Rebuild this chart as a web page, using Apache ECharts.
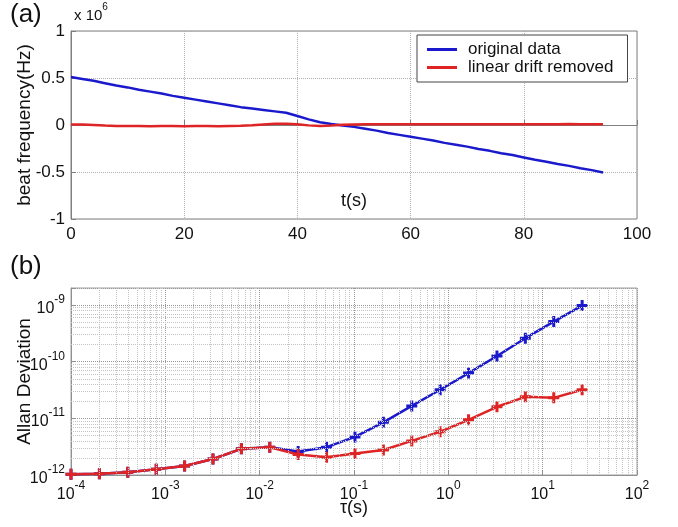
<!DOCTYPE html>
<html>
<head>
<meta charset="utf-8">
<script src="https://cdn.jsdelivr.net/npm/echarts@6/dist/echarts.min.js"></script>
<style>
  html, body { margin: 0; padding: 0; background: #fff; }
  #chart { width: 678px; height: 527px; }
</style>
</head>
<body>
<div id="chart"></div>
<script>
// (a) beat frequency vs time, values in units of 1e6 Hz
var timeSec = [0, 2, 4, 6, 8, 10, 12, 14, 16, 18, 20, 22, 24, 26, 28, 30, 32, 34, 36, 38,
  40, 42, 44, 46, 48, 50, 52, 54, 56, 58, 60, 62, 64, 66, 68, 70, 72, 74, 76, 78,
  80, 82, 84, 86, 88, 90, 92, 94]
var freqOriginal = [0.51, 0.49, 0.47, 0.445, 0.42, 0.40, 0.375, 0.355, 0.335, 0.31,
  0.29, 0.27, 0.25, 0.23, 0.21, 0.19, 0.175, 0.16, 0.145, 0.13,
  0.095, 0.06, 0.03, 0.01, -0.005, -0.02, -0.04, -0.06, -0.085, -0.105,
  -0.125, -0.145, -0.165, -0.19, -0.21, -0.23, -0.255, -0.275, -0.3, -0.32,
  -0.345, -0.37, -0.39, -0.415, -0.435, -0.46, -0.48, -0.505]
var freqDetrended = [0.005, 0.004, 0.0, -0.006, -0.01, -0.011, -0.01, -0.012, -0.011, -0.01,
  -0.012, -0.01, -0.011, -0.012, -0.01, -0.008, -0.002, 0.006, 0.012, 0.014,
  0.008, -0.004, -0.01, -0.006, 0.002, 0.006, 0.008, 0.007, 0.008, 0.009,
  0.008, 0.007, 0.008, 0.008, 0.009, 0.008, 0.007, 0.008, 0.009, 0.008,
  0.008, 0.007, 0.008, 0.009, 0.01, 0.008, 0.008, 0.008]

// (b) Allan deviation vs averaging time
var tau = [1e-4, 2e-4, 4e-4, 8e-4, 1.6e-3, 3.2e-3, 6.4e-3, 1.28e-2, 2.56e-2, 5.12e-2,
  0.1024, 0.2048, 0.4096, 0.8192, 1.6384, 3.2768, 6.5536, 13.107, 26.214]
var adevOriginal = [1.03e-12, 1.05e-12, 1.12e-12, 1.26e-12, 1.44e-12, 1.92e-12, 2.9e-12, 3.1e-12, 2.6e-12, 3.1e-12,
  4.7e-12, 8.5e-12, 1.66e-11, 3.2e-11, 6.3e-11, 1.26e-10, 2.6e-10, 5.1e-10, 9.8e-10]
var adevDetrended = [1.03e-12, 1.05e-12, 1.12e-12, 1.26e-12, 1.44e-12, 1.92e-12, 2.9e-12, 3.1e-12, 2.3e-12, 2.05e-12,
  2.4e-12, 2.76e-12, 4.0e-12, 5.8e-12, 9.4e-12, 1.6e-11, 2.4e-11, 2.3e-11, 3.2e-11]

var tauMin = 1e-4, tauMax = 1e2
var adevMin = 1e-12, adevMax = 2e-9

var blue = '#1a1acc'
var red = '#de2424'
var font = "'Liberation Sans', Arial, sans-serif"
var plus = 'path://M4,0h3v4h4v3h-4v4h-3v-4h-4v-3h4z'

// minor log grid lines at 2..9 x 10^k
var minorX = []
for (var e = -4; e < 2; e++) for (var m = 2; m < 10; m++) minorX.push(m * Math.pow(10, e))
var minorY = []
for (var e2 = -12; e2 < -8; e2++) for (var m2 = 2; m2 < 10; m2++) {
  var v = m2 * Math.pow(10, e2)
  if (v < adevMax) minorY.push(v)
}

function pair(xs, ys) {
  return xs.map(function (x, i) { return [x, ys[i]] })
}
function isPow10(v) {
  var l = Math.log10(v)
  return Math.abs(l - Math.round(l)) < 1e-6
}
function logLabel(v) {
  if (!isPow10(v)) return ''
  return '{b|10}{s|' + Math.round(Math.log10(v)) + '}'
}
var supRich = {
  b: { fontSize: 16, color: '#111', padding: [7, 0, 0, 0], verticalAlign: 'bottom', fontFamily: font },
  s: { fontSize: 12, color: '#111', verticalAlign: 'top', fontFamily: font }
}

var chart = echarts.init(document.getElementById('chart'))
chart.setOption({
  animation: false,
  textStyle: { fontFamily: font },
  grid: [
    { left: 71, top: 31, width: 566, height: 188, show: true, borderColor: '#808080', borderWidth: 1 },
    { left: 71, top: 288, width: 566, height: 187, show: true, borderColor: '#a0a0a0', borderWidth: 1 }
  ],
  graphic: [
    { type: 'text', left: 10, top: 2, style: { text: '(a)', fontSize: 26, fill: '#111', fontFamily: font } },
    { type: 'text', left: 10, top: 254, style: { text: '(b)', fontSize: 26, fill: '#111', fontFamily: font } },
    {
      type: 'text', left: 74, top: 2,
      style: {
        text: '{m|x 10}{s|6}', fontFamily: font,
        rich: {
          m: { fontSize: 15, fill: '#111', padding: [6, 0, 0, 0], verticalAlign: 'bottom' },
          s: { fontSize: 10, fill: '#111', verticalAlign: 'top' }
        }
      }
    }
  ],
  legend: {
    data: ['original data', 'linear drift removed'],
    orient: 'vertical',
    left: 417,
    top: 35,
    padding: [6, 14, 6, 10],
    itemGap: 1,
    itemWidth: 30,
    itemHeight: 3,
    icon: 'rect',
    backgroundColor: '#fff',
    borderColor: '#444',
    borderWidth: 1,
    borderRadius: 0,
    selectedMode: false,
    textStyle: { fontSize: 17, color: '#111', padding: [0, 0, 0, 6] }
  },
  xAxis: [
    {
      gridIndex: 0,
      type: 'value',
      min: 0,
      max: 100,
      interval: 20,
      name: 't(s)',
      nameLocation: 'middle',
      nameGap: -27,
      nameMoveOverlap: false,
      nameTextStyle: { fontSize: 18, color: '#111' },
      axisLine: { show: true, lineStyle: { color: '#808080' } },
      axisTick: { show: true, inside: true, length: 5, lineStyle: { color: '#808080' } },
      axisLabel: { fontSize: 17, color: '#111', margin: 7 },
      splitLine: { show: true, lineStyle: { type: 'dotted', color: '#b0b0b0' } }
    },
    {
      gridIndex: 1,
      type: 'log',
      logBase: 10,
      min: tauMin,
      max: tauMax,
      interval: 1,
      name: 'τ(s)',
      nameLocation: 'middle',
      nameGap: 24,
      nameMoveOverlap: false,
      nameTextStyle: { fontSize: 18, color: '#111' },
      axisLine: { show: true, lineStyle: { color: '#909090' } },
      axisTick: { show: true, inside: true, length: 5, lineStyle: { color: '#909090' } },
      axisLabel: { margin: 5, formatter: logLabel, rich: supRich },
      splitLine: { show: true, lineStyle: { type: 'dotted', color: '#999' } }
    }
  ],
  yAxis: [
    {
      gridIndex: 0,
      type: 'value',
      min: -1,
      max: 1,
      interval: 0.5,
      name: 'beat frequency(Hz)',
      nameLocation: 'middle',
      nameGap: 37,
      nameMoveOverlap: false,
      nameTextStyle: { fontSize: 19, color: '#111' },
      axisLine: { show: true, lineStyle: { color: '#808080' } },
      axisTick: { show: true, inside: true, length: 5, lineStyle: { color: '#808080' } },
      axisLabel: { fontSize: 17, color: '#111', margin: 6 },
      splitLine: { show: true, lineStyle: { type: 'dotted', color: '#b0b0b0' } }
    },
    {
      gridIndex: 1,
      type: 'log',
      logBase: 10,
      min: adevMin,
      max: adevMax,
      interval: 1,
      name: 'Allan Deviation',
      nameLocation: 'middle',
      nameGap: 37,
      nameMoveOverlap: false,
      nameTextStyle: { fontSize: 19, color: '#111' },
      axisLine: { show: true, lineStyle: { color: '#909090' } },
      axisTick: { show: true, inside: true, length: 5, lineStyle: { color: '#909090' } },
      axisLabel: { margin: 6, formatter: logLabel, rich: supRich },
      splitLine: { show: true, lineStyle: { type: 'dotted', color: '#999' } }
    }
  ],
  series: [
    {
      name: 'minor grid',
      type: 'line',
      xAxisIndex: 1,
      yAxisIndex: 1,
      data: [],
      z: 1,
      silent: true,
      markLine: {
        silent: true,
        symbol: ['none', 'none'],
        label: { show: false },
        lineStyle: { type: 'dotted', color: '#c4c4c4', width: 1 },
        data: minorX.map(function (x) { return [{ coord: [x, adevMin] }, { coord: [x, adevMax] }] })
          .concat(minorY.map(function (y) { return [{ coord: [tauMin, y] }, { coord: [tauMax, y] }] }))
      }
    },
    {
      name: 'original data',
      type: 'line',
      xAxisIndex: 0,
      yAxisIndex: 0,
      data: pair(timeSec, freqOriginal),
      showSymbol: false,
      color: blue,
      lineStyle: { width: 2.5 },
      z: 3
    },
    {
      name: 'linear drift removed',
      type: 'line',
      xAxisIndex: 0,
      yAxisIndex: 0,
      data: pair(timeSec, freqDetrended),
      showSymbol: false,
      color: red,
      lineStyle: { width: 2.5 },
      z: 4
    },
    {
      name: 'adev original',
      type: 'line',
      xAxisIndex: 1,
      yAxisIndex: 1,
      data: pair(tau, adevOriginal),
      symbol: plus,
      symbolSize: 11,
      color: blue,
      lineStyle: { width: 2.5 },
      z: 3
    },
    {
      name: 'adev removed',
      type: 'line',
      xAxisIndex: 1,
      yAxisIndex: 1,
      data: pair(tau, adevDetrended),
      symbol: plus,
      symbolSize: 11,
      color: red,
      lineStyle: { width: 2.5 },
      z: 4
    }
  ]
})
</script>
</body>
</html>
